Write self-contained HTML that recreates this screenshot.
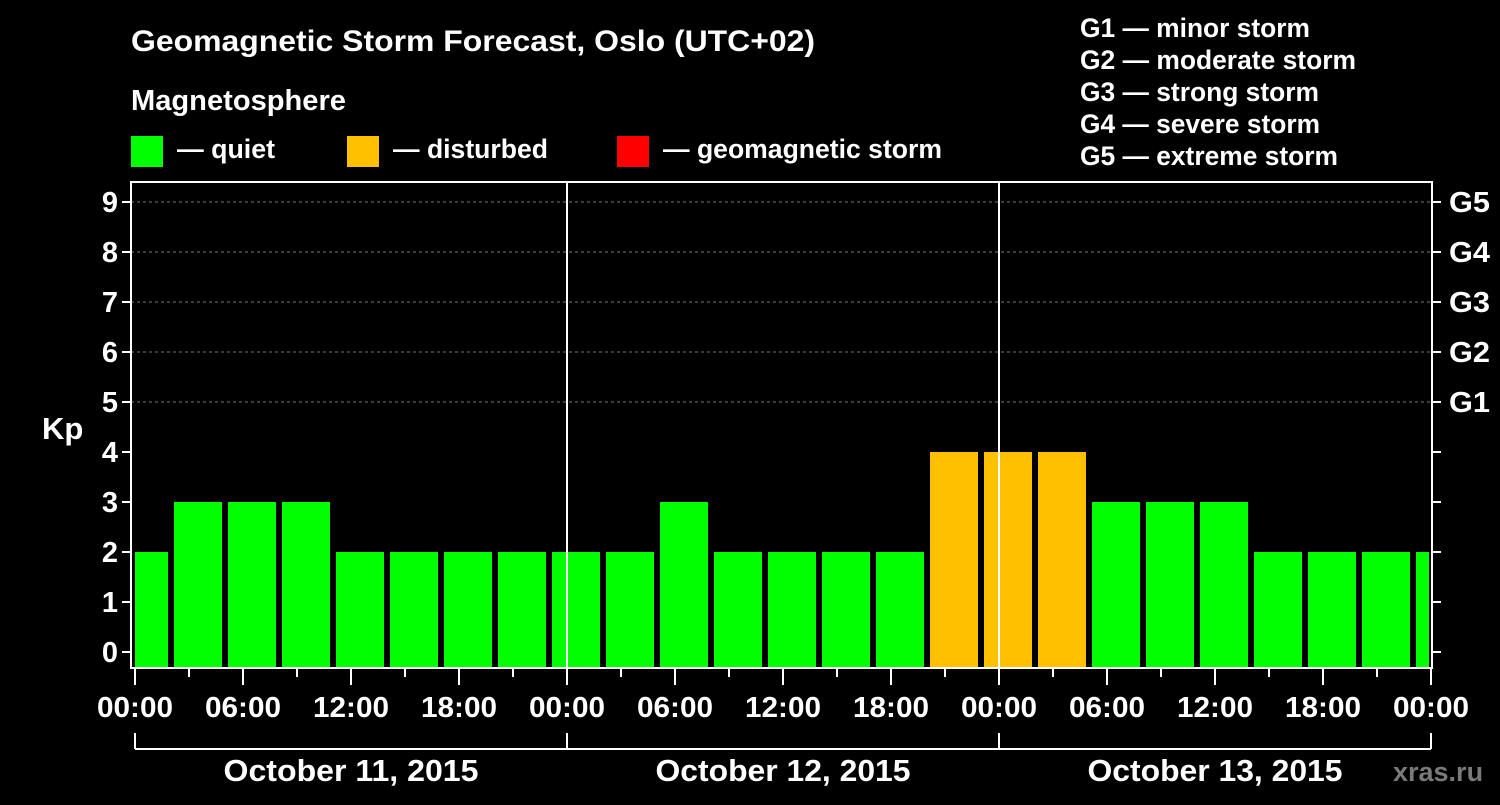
<!DOCTYPE html>
<html><head><meta charset="utf-8"><style>
html,body{margin:0;background:#000;}
svg text{font-family:"Liberation Sans",Arial,sans-serif;font-weight:bold;fill:#fff;}
</style></head><body>
<svg id="c" width="1500" height="800" xmlns="http://www.w3.org/2000/svg">
<text x="131" y="51" font-size="30" textLength="684" lengthAdjust="spacingAndGlyphs">Geomagnetic Storm Forecast, Oslo (UTC+02)</text>
<text x="131" y="110" font-size="29" textLength="215" lengthAdjust="spacingAndGlyphs">Magnetosphere</text>
<g><rect x="131" y="136" width="32" height="31" fill="#00ff00"/><text x="177" y="158" font-size="27" textLength="98" lengthAdjust="spacingAndGlyphs">— quiet</text></g>
<g><rect x="347" y="136" width="32" height="31" fill="#ffc000"/><text x="393" y="158" font-size="27" textLength="155" lengthAdjust="spacingAndGlyphs">— disturbed</text></g>
<g><rect x="617" y="136" width="32" height="31" fill="#ff0000"/><text x="663" y="158" font-size="27" textLength="279" lengthAdjust="spacingAndGlyphs">— geomagnetic storm</text></g>
<g font-size="27">
<text x="1080" y="37" textLength="230" lengthAdjust="spacingAndGlyphs">G1 — minor storm</text>
<text x="1080" y="69" textLength="276" lengthAdjust="spacingAndGlyphs">G2 — moderate storm</text>
<text x="1080" y="101" textLength="239" lengthAdjust="spacingAndGlyphs">G3 — strong storm</text>
<text x="1080" y="133" textLength="240" lengthAdjust="spacingAndGlyphs">G4 — severe storm</text>
<text x="1080" y="165" textLength="258" lengthAdjust="spacingAndGlyphs">G5 — extreme storm</text>
</g>
<text x="42" y="439" font-size="31">Kp</text>
<g id="grid"></g><g id="bars"></g><g id="axes"></g>
<text x="1393" y="781" font-size="27" style="fill:#7a7a7a">xras.ru</text>
</svg>
<script>
const kpValues=[2,3,3,3,2,2,2,2,2,2,3,2,2,2,2,4,4,4,3,3,3,2,2,2,2];
const levelColors={quiet:"#00ff00",disturbed:"#ffc000",storm:"#ff0000"};
const yTicks=[0,1,2,3,4,5,6,7,8,9];
const gLabels=["G1","G2","G3","G4","G5"];
const xLabels=["00:00","06:00","12:00","18:00","00:00","06:00","12:00","18:00","00:00","06:00","12:00","18:00","00:00"];
const dayLabels=["October 11, 2015","October 12, 2015","October 13, 2015"];
const NS="http://www.w3.org/2000/svg";
const L=131,R=1432,T=182,B=668,X0=135,PXH=18;
const y=v=>652-v*50;
const x=h=>X0+h*PXH;
function mk(tag,attrs,parent,txt){const e=document.createElementNS(NS,tag);for(const k in attrs)e.setAttribute(k,attrs[k]);if(txt!==undefined)e.textContent=txt;parent.appendChild(e);return e;}
const grid=document.getElementById('grid'),bars=document.getElementById('bars'),axes=document.getElementById('axes');
yTicks.forEach(v=>{if(v>=5){const l=mk('line',{x1:L,x2:R,y1:y(v),y2:y(v),stroke:'#777','stroke-dasharray':'3,3'},grid);

}});
const cp=mk('clipPath',{id:'clip'},bars);mk('rect',{x:L+4,y:T,width:R-L-7,height:B-T},cp);
const bg=mk('g',{'clip-path':'url(#clip)'},bars);
kpValues.forEach((v,i)=>{const c=x(-1.5+3*i+2);const col=v>=5?levelColors.storm:v>=4?levelColors.disturbed:levelColors.quiet;
const r=mk('rect',{x:c-24,y:y(v),width:48,height:B-y(v),fill:col},bg);

});
[1,2].forEach(d=>{mk('line',{x1:x(24*d),x2:x(24*d),y1:T,y2:B,stroke:'#fff','stroke-width':2},axes);});
mk('rect',{x:L,y:T,width:R-L,height:B-T,fill:'none',stroke:'#fff','stroke-width':2},axes);
yTicks.forEach(v=>{mk('line',{x1:L-9,x2:L,y1:y(v),y2:y(v),stroke:'#fff','stroke-width':2},axes);
mk('line',{x1:R,x2:R+9,y1:y(v),y2:y(v),stroke:'#fff','stroke-width':2},axes);
const t=mk('text',{x:L-13,y:y(v)+10,'font-size':29,'text-anchor':'end'},axes,String(v));

});
gLabels.forEach((g,i)=>{const t=mk('text',{x:R+17,y:y(5+i)+10,'font-size':29,textLength:41,lengthAdjust:'spacingAndGlyphs'},axes,g);

});
for(let h=0;h<=72;h+=3){const maj=h%6==0;mk('line',{x1:x(h),x2:x(h),y1:B,y2:B+(maj?17:9),stroke:'#fff','stroke-width':2},axes);}
xLabels.forEach((s,i)=>{const t=mk('text',{x:x(6*i),y:717,'font-size':29,'text-anchor':'middle',textLength:76,lengthAdjust:'spacingAndGlyphs'},axes,s);

});
mk('line',{x1:x(0),x2:x(72),y1:749,y2:749,stroke:'#fff','stroke-width':2},axes);
for(let d=0;d<=3;d++)mk('line',{x1:x(24*d),x2:x(24*d),y1:733,y2:749,stroke:'#fff','stroke-width':2},axes);
dayLabels.forEach((s,i)=>{const t=mk('text',{x:x(24*i+12),y:781,'font-size':31,'text-anchor':'middle',textLength:255,lengthAdjust:'spacingAndGlyphs'},axes,s);

});
</script>
</body></html>
